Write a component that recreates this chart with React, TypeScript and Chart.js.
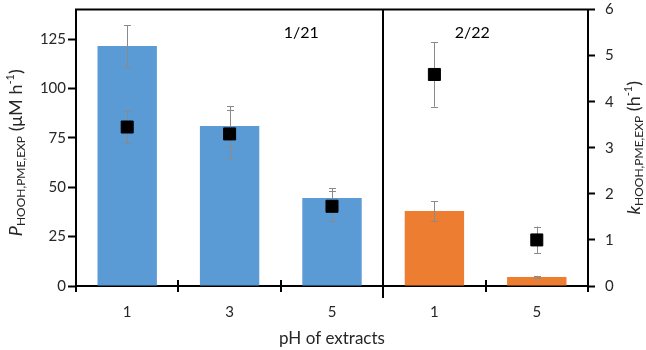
import React, { useEffect, useRef } from "react";
import { Chart, registerables } from "chart.js";

Chart.register(...registerables);

const categories = ["1", "3", "5", "1", "5"];
const productionRate = [121.5, 81, 44.5, 38, 4.5];
const productionErr = [10.5, 10, 5, 5, 0.6];
const rateConstant = [3.45, 3.3, 1.73, 4.59, 1.0];
const rateConstantErr = [0.35, 0.52, 0.33, 0.7, 0.29];
const barColors = ["#5B9BD5", "#5B9BD5", "#5B9BD5", "#ED7D31", "#ED7D31"];
const leftTicks = [0, 25, 50, 75, 100, 125];
const rightTicks = [0, 1, 2, 3, 4, 5, 6];
const groupLabels = ["1/21", "2/22"];
const groupLabelPos = [1.7, 3.37];

const FONT = "Lato, 'Open Sans', sans-serif";
const TXT = "#262626";

type Seg = { text: string; size: number; italic?: boolean; dy?: number };

function drawRich(ctx: CanvasRenderingContext2D, segs: Seg[], cx: number, cy: number, rot: number) {
  ctx.save();
  let total = 0;
  const widths = segs.map((s) => {
    ctx.font = `${s.italic ? "italic " : ""}${s.size}px ${FONT}`;
    const w = ctx.measureText(s.text).width;
    total += w;
    return w;
  });
  ctx.translate(cx, cy);
  ctx.rotate(rot);
  ctx.fillStyle = TXT;
  ctx.textBaseline = "alphabetic";
  ctx.textAlign = "left";
  let x = -total / 2;
  segs.forEach((s, i) => {
    ctx.font = `${s.italic ? "italic " : ""}${s.size}px ${FONT}`;
    ctx.fillText(s.text, x, 6 + (s.dy || 0));
    x += widths[i];
  });
  ctx.restore();
}

function drawErr(ctx: CanvasRenderingContext2D, x: number, yTop: number, yBot: number) {
  ctx.save();
  ctx.strokeStyle = "#8a8a8a";
  ctx.lineWidth = 1;
  ctx.beginPath();
  const xx = Math.round(x) + 0.5;
  ctx.moveTo(xx, yTop);
  ctx.lineTo(xx, yBot);
  ctx.moveTo(xx - 3.5, Math.round(yTop) + 0.5);
  ctx.lineTo(xx + 3.5, Math.round(yTop) + 0.5);
  ctx.moveTo(xx - 3.5, Math.round(yBot) + 0.5);
  ctx.lineTo(xx + 3.5, Math.round(yBot) + 0.5);
  ctx.stroke();
  ctx.restore();
}

const customPlugin = {
  id: "custom",
  afterDatasetDraw(chart: any, args: any) {
    const ctx = chart.ctx;
    if (args.index === 0) {
      const y = chart.scales.y;
      chart.getDatasetMeta(0).data.forEach((el: any, i: number) => {
        drawErr(ctx, el.x, y.getPixelForValue(productionRate[i] + productionErr[i]), y.getPixelForValue(productionRate[i] - productionErr[i]));
      });
    }
  },
  beforeDatasetDraw(chart: any, args: any) {
    const ctx = chart.ctx;
    if (args.index === 1) {
      const y2 = chart.scales.y2;
      chart.getDatasetMeta(1).data.forEach((el: any, i: number) => {
        drawErr(ctx, el.x, y2.getPixelForValue(rateConstant[i] + rateConstantErr[i]), y2.getPixelForValue(rateConstant[i] - rateConstantErr[i]));
      });
    }
  },
  afterDraw(chart: any) {
    const ctx = chart.ctx;
    const { left, right, top, bottom } = chart.chartArea;
    const x = chart.scales.x;
    const y = chart.scales.y;
    const catW = x.getPixelForValue(1) - x.getPixelForValue(0);
    ctx.save();
    ctx.strokeStyle = "#000";
    ctx.lineWidth = 2;
    ctx.beginPath();
    ctx.moveTo(left - 1, top);
    ctx.lineTo(right + 1, top);
    ctx.stroke();
    for (let i = 0; i <= categories.length; i++) {
      const px = Math.round(x.getPixelForValue(i) - catW / 2);
      ctx.beginPath();
      if (i === 3) {
        ctx.moveTo(px, top);
        ctx.lineTo(px, bottom + 12);
      } else {
        ctx.moveTo(px, bottom - 6);
        ctx.lineTo(px, bottom + 6);
      }
      ctx.stroke();
    }
    ctx.fillStyle = "#000";
    ctx.font = `16px ${FONT}`;
    ctx.textAlign = "center";
    ctx.textBaseline = "middle";
    groupLabels.forEach((g, i) => {
      ctx.fillText(g, x.getPixelForValue(groupLabelPos[i]), y.getPixelForValue(128));
    });
    ctx.restore();
    const midY = (top + bottom) / 2;
    drawRich(ctx, [
      { text: "P", size: 18, italic: true },
      { text: "HOOH,PME,EXP", size: 12, dy: 3 },
      { text: " (\u03BCM h", size: 18 },
      { text: "-1", size: 11, dy: -8 },
      { text: ")", size: 18 },
    ], 16, midY + 5, -Math.PI / 2);
    drawRich(ctx, [
      { text: "k", size: 18, italic: true },
      { text: "HOOH,PME,EXP", size: 12, dy: 3 },
      { text: " (h", size: 18 },
      { text: "-1", size: 11, dy: -8 },
      { text: ")", size: 18 },
    ], 634, midY, -Math.PI / 2);
  },
};

export default function App() {
  const ref = useRef<HTMLCanvasElement | null>(null);
  useEffect(() => {
    if (!ref.current) return;
    const chart = new Chart(ref.current, {
      type: "bar",
      data: {
        labels: categories,
        datasets: [
          {
            type: "bar",
            data: productionRate,
            backgroundColor: barColors,
            yAxisID: "y",
            order: 1,
            barPercentage: 0.58,
            categoryPercentage: 1,
          } as any,
          {
            type: "line",
            data: rateConstant,
            showLine: false,
            yAxisID: "y2",
            order: 0,
            pointStyle: "rect",
            pointRadius: 8.5,
            pointBackgroundColor: "#000",
            pointBorderColor: "#000",
            pointBorderWidth: 1,
          } as any,
        ],
      },
      options: {
        responsive: false,
        animation: false,
        layout: { padding: { top: 6, left: 0, right: 0, bottom: 0 } },
        plugins: { legend: { display: false }, tooltip: { enabled: false } },
        scales: {
          x: {
            type: "category",
            offset: true,
            grid: { display: false, drawTicks: false },
            border: { display: true, color: "#000", width: 2 },
            ticks: { color: TXT, font: { family: FONT, size: 15 }, padding: 17, maxRotation: 0 },
            title: { display: true, text: "pH of extracts", color: TXT, font: { family: FONT, size: 17 }, padding: { top: 0, bottom: 1 } },
            afterFit: (s: any) => { s.height = 64; s.paddingLeft = 0; s.paddingRight = 0; },
          },
          y: {
            position: "left",
            min: 0,
            max: 140,
            afterBuildTicks: (s: any) => { s.ticks = leftTicks.map((v) => ({ value: v })); },
            grid: { drawOnChartArea: false, tickLength: 8, tickColor: "#000", tickWidth: 2 },
            border: { display: true, color: "#000", width: 2 },
            ticks: { color: TXT, font: { family: FONT, size: 15 }, padding: 2 },
            afterFit: (s: any) => { s.width = 76; s.paddingTop = 0; s.paddingBottom = 0; },
          },
          y2: {
            position: "right",
            min: 0,
            max: 6,
            afterBuildTicks: (s: any) => { s.ticks = rightTicks.map((v) => ({ value: v })); },
            grid: { drawOnChartArea: false, tickLength: 7, tickColor: "#000", tickWidth: 2 },
            border: { display: true, color: "#000", width: 2 },
            ticks: { color: TXT, font: { family: FONT, size: 15 }, padding: 10 },
            afterFit: (s: any) => { s.width = 58; s.paddingTop = 0; s.paddingBottom = 0; },
          },
        },
      } as any,
      plugins: [customPlugin],
    });
    return () => chart.destroy();
  }, []);
  return (
    <div style={{ position: "fixed", left: 0, top: 0, width: 646, height: 350, background: "#fff" }}>
      <canvas ref={ref} width={646} height={350} />
    </div>
  );
}
